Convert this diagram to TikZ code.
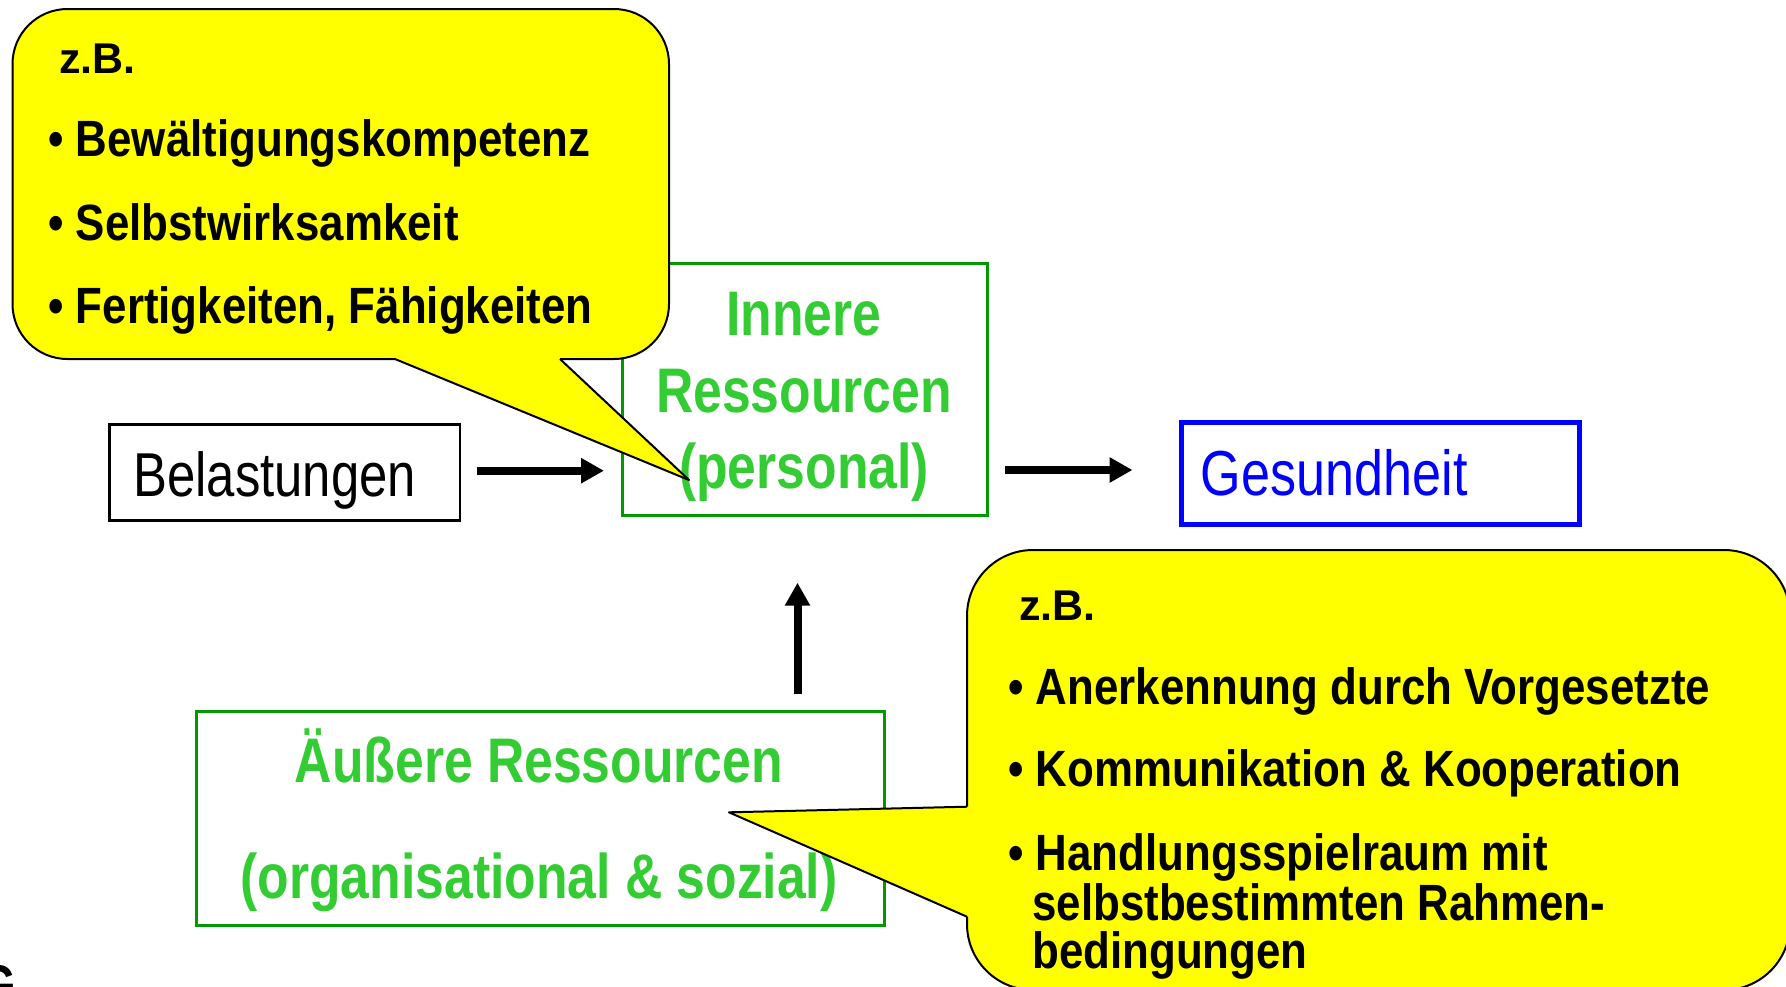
\documentclass[tikz,border=0pt]{standalone}
\usepackage{fontspec}
\usetikzlibrary{arrows.meta}
\newfontfamily\narr{Liberation Sans}[FakeStretch=0.82]
\newfontfamily\narc{Liberation Sans}[FakeStretch=0.86]
\newfontfamily\wide{Liberation Sans}
\definecolor{txtgreen}{RGB}{51,204,51}
\definecolor{boxgreen}{RGB}{0,153,0}
\definecolor{calloutyellow}{RGB}{255,255,0}
\definecolor{gesblue}{RGB}{0,0,255}
\tikzset{
  callfill/.style={fill=calloutyellow},
  callline/.style={draw=black, line width=1pt, line join=round},
  gbox/.style={draw=boxgreen, line width=1.5pt, inner sep=0pt, outer sep=0pt},
  gtext/.style={text=txtgreen, font=\narr\bfseries\fontsize{31.5}{36}\selectfont, inner sep=0pt, anchor=base},
  rtext/.style={font=\narr\fontsize{31}{36}\selectfont, inner sep=0pt, anchor=base west},
  ctext/.style={font=\narc\bfseries\fontsize{25.5}{28}\selectfont, inner sep=0pt, anchor=base west},
  zbtext/.style={font=\wide\bfseries\fontsize{21.5}{24}\selectfont, inner sep=0pt, anchor=base west},
  arr/.style={line width=4pt, -{Triangle[length=11.5pt,width=12pt]}}
}
\begin{document}
\begin{tikzpicture}[x=0.5pt,y=-0.5pt]
\useasboundingbox (0,0) rectangle (1786,986);
\clip (0,0) rectangle (1786,986);

% boxes
\node[draw=black, line width=1.2pt, inner sep=0pt, outer sep=0pt, minimum width=175.15pt, minimum height=48pt] (bel) at (284.65,472.5) {};
\node[gbox, minimum width=182.5pt, minimum height=126pt] (inn) at (805,389.2) {};
\node[draw=gesblue, line width=2.5pt, inner sep=0pt, outer sep=0pt, minimum width=199pt, minimum height=50.85pt] (ges) at (1380.5,473.35) {};
\node[gbox, minimum width=344.15pt, minimum height=106.85pt] (aus) at (540.35,818.35) {};

% texts in boxes
\node[rtext] (belt) at (133,496) {Belastungen};
\node[rtext, text=gesblue, font=\narr\fontsize{31.8}{36}\selectfont] (gest) at (1200.5,495) {Gesundheit};
\node[gtext] (inn1) at (804,335) {Innere};
\node[gtext] (inn2) at (804,412) {Ressourcen};
\node[gtext] (inn3) at (804,488) {(personal)};
\node[gtext] (aus1) at (539,782.7) {Äußere Ressourcen};
\node[gtext] (aus2) at (539,898) {(organisational \& sozial)};

% arrows
\coordinate (a1s) at (476.7,470.7);
\coordinate (a1e) at (604,470.7);
\coordinate (a2s) at (1005,470);
\coordinate (a2e) at (1132.5,470);
\coordinate (a3s) at (797.5,694);
\coordinate (a3e) at (797.5,582.7);
\draw[arr] (a1s) -- (a1e);
\draw[arr] (a2s) -- (a2e);
\draw[arr] (a3s) -- (a3e);

% fragment at bottom left
\node[anchor=north west, inner sep=0pt, font=\narr\bfseries\fontsize{28}{30}\selectfont] (frag) at (-20,965) {G};

% top callout
\coordinate (tcA) at (395,359);
\coordinate (tcB) at (560,359);
\coordinate (tcTip) at (689,480);
\fill[callfill, rounded corners=27.5pt] (12.5,9) rectangle (669,359);
\fill[callfill] (tcA) -- (tcTip) -- (tcB) -- cycle;
\draw[callline, rounded corners=27.5pt] (tcB) -- (669,359) -- (669,9) -- (12.5,9) -- (12.5,359) -- (tcA);
\draw[callline] (tcA) -- (tcTip) -- (tcB);
\node[zbtext] (tz) at (59,73.3) {z.B.};
\node[ctext] (t1) at (48,156.7) {• Bewältigungskompetenz};
\node[ctext] (t2) at (48,240) {• Selbstwirksamkeit};
\node[ctext] (t3) at (48,323.3) {• Fertigkeiten, Fähigkeiten};

% bottom callout
\coordinate (bcU) at (967,806.7);
\coordinate (bcL) at (967,916.7);
\coordinate (bcTip) at (729,812.3);
\fill[callfill, rounded corners=33pt] (967,550) rectangle (1790,990);
\fill[callfill] (bcU) -- (bcTip) -- (bcL) -- cycle;
\draw[callline, rounded corners=33pt] (bcU) -- (967,550) -- (1790,550) -- (1790,990) -- (967,990) -- (bcL);
\draw[callline] (bcL) -- (bcTip) -- (bcU);
\node[zbtext] (bz) at (1019,620) {z.B.};
\node[ctext] (b1) at (1008,704) {• Anerkennung durch Vorgesetzte};
\node[ctext] (b2) at (1008,786.7) {• Kommunikation \& Kooperation};
\node[ctext] (b3) at (1008,870) {• Handlungsspielraum mit};
\node[ctext] (b3b) at (1032,920) {selbstbestimmten Rahmen-};
\node[ctext] (b3c) at (1032,968) {bedingungen};
\end{tikzpicture}
\end{document}
